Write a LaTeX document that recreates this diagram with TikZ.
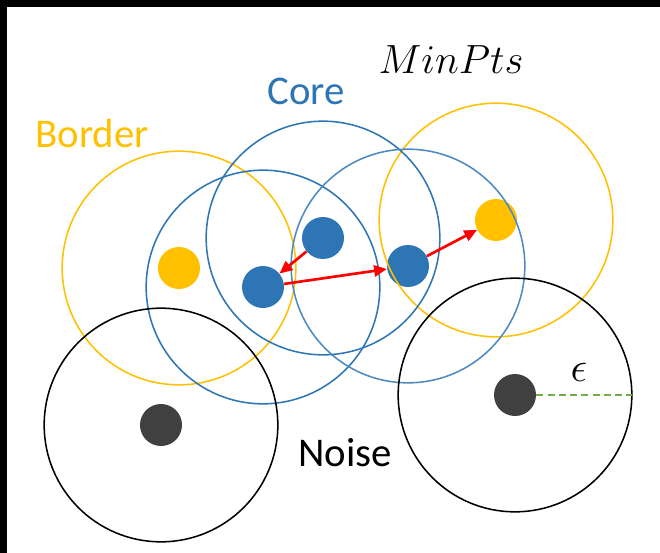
\RequirePackage{fix-cm}
\documentclass[tikz,border=0pt]{standalone}
\usepackage{fontspec}
\setmainfont{Carlito}
\definecolor{dbyellow}{RGB}{255,192,0}
\definecolor{dbblue}{RGB}{46,117,182}
\definecolor{dbdark}{RGB}{64,64,64}
\definecolor{dbgreen}{RGB}{112,173,71}
\definecolor{dbred}{RGB}{255,0,0}
\usetikzlibrary{arrows.meta,positioning}

\begin{document}
\begin{tikzpicture}[x=0.025cm,y=-0.025cm,
  pt/.style={circle,inner sep=0pt,minimum size=1.05cm},
  nbhd/.style={line width=1.1pt},
  lbl/.style={font=\fontsize{29}{34}\selectfont,anchor=base},
  arr/.style={-{Triangle[length=3.2mm,width=2.8mm]},line width=1.9pt,dbred}
]
  \useasboundingbox (0,0) rectangle (660,553);
  \fill[black] (0,0) rectangle (660,7);
  \fill[black] (0,0) rectangle (7,553);

  % points
  \node[pt,fill=dbyellow] (border1) at (179,268) {};
  \node[pt,fill=dbblue] (coreA) at (263,287) {};
  \node[pt,fill=dbblue] (coreB) at (323,238) {};
  \node[pt,fill=dbblue] (coreC) at (408,266) {};
  \node[pt,fill=dbyellow] (border2) at (496,220) {};
  \node[pt,fill=dbdark] (noise1) at (161,425) {};
  \node[pt,fill=dbdark] (noise2) at (515,395) {};

  % eps-neighbourhoods
  \draw[nbhd,dbyellow] (border1) circle[radius=2.92cm];
  \draw[nbhd,dbyellow] (border2) circle[radius=2.92cm];
  \draw[nbhd,dbblue] (coreA) circle[radius=2.92cm];
  \draw[nbhd,dbblue] (coreB) circle[radius=2.92cm];
  \draw[nbhd,dbblue!85] (coreC) circle[radius=2.92cm];
  \draw[nbhd,black] (noise1) circle[radius=2.92cm];
  \draw[nbhd,black] (noise2) circle[radius=2.92cm];

  % reachability
  \draw[arr] (coreB) -- (coreA);
  \draw[arr] (coreA) -- (coreC);
  \draw[arr] (coreC) -- (border2);

  \coordinate (rim) at (632,395);
  \draw[dbgreen,line width=1.2pt,dash pattern=on 5pt off 3pt] (noise2) -- (rim);
  \node[font=\fontsize{30}{36}\selectfont] (eps) at (579,372) {$\epsilon$};

  \node[lbl,dbyellow] (tborder) at (92,147) {Border};
  \node[lbl,dbblue] (tcore) at (306,104) {Core};
  \node[lbl] (tminpts) at (451,73) {$MinPts$};
  \node[lbl] (tnoise) at (345,466) {Noise};
\end{tikzpicture}
\end{document}
